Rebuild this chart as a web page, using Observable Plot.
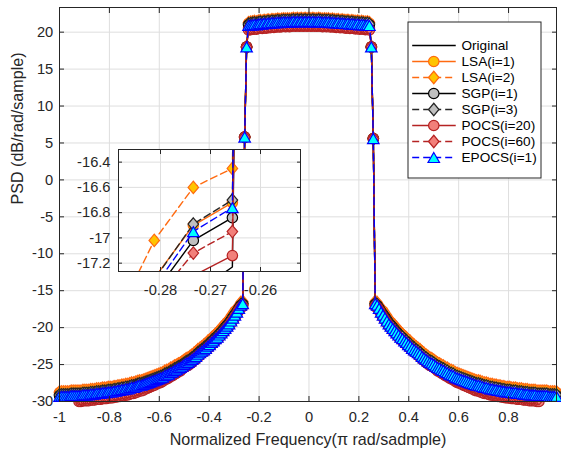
<!DOCTYPE html>
<html><head><meta charset="utf-8">
<script src="https://cdn.jsdelivr.net/npm/d3@7"></script>
<script src="https://cdn.jsdelivr.net/npm/@observablehq/plot@0.6"></script>
<style>
body{margin:0;background:#fff;}
#chart{position:relative;width:561px;height:451px;overflow:hidden;}
#chart svg{position:absolute;}
</style></head><body><div id="chart"></div>
<script>
// ---------------- DATA ----------------
const seriesNames = ["Original","LSA(i=1)","LSA(i=2)","SGP(i=1)","SGP(i=3)","POCS(i=20)","POCS(i=60)","EPOCS(i=1)"];
const xTicks = [-1,-0.8,-0.6,-0.4,-0.2,0,0.2,0.4,0.6,0.8];
const yTicks = [-30,-25,-20,-15,-10,-5,0,5,10,15,20];
const insetXTicks = [-0.28,-0.27,-0.26];
const insetYTicks = [-17.2,-17,-16.8,-16.6,-16.4];
const xLabel = "Normalized Frequency(\u03c0 rad/sadmple)";
const yLabel = "PSD (dB/rad/sample)";
// 256-point FFT frequency grid (normalized, x pi rad/sample)
const freq = d3.range(-128, 128).map(k => k / 128);

const original = [
-29.2,-29.2,-29.2,-29.2,-29.2,-29.2,-29.1,-29.1,-29.1,-29.1,-29.1,-29.1,-29.0,-29.0,-29.0,-29.0,
-28.9,-28.9,-28.9,-28.8,-28.8,-28.8,-28.7,-28.7,-28.7,-28.6,-28.6,-28.6,-28.5,-28.5,-28.4,-28.4,
-28.3,-28.3,-28.2,-28.2,-28.1,-28.0,-28.0,-27.9,-27.8,-27.7,-27.7,-27.6,-27.5,-27.4,-27.3,-27.2,
-27.1,-27.0,-26.9,-26.8,-26.7,-26.6,-26.4,-26.3,-26.2,-26.0,-25.9,-25.7,-25.6,-25.4,-25.3,-25.1,
-24.9,-24.7,-24.6,-24.4,-24.2,-24.0,-23.8,-23.5,-23.3,-23.1,-22.9,-22.7,-22.4,-22.2,-21.9,-21.7,
-21.4,-21.2,-20.9,-20.6,-20.3,-20.0,-19.7,-19.4,-19.1,-18.75,-18.45,-18.1,-17.8,-17.45,-17.23,
5.8,18.0,
20.9,20.95,21.0,21.05,21.0,21.1,21.15,21.1,21.2,21.15,21.25,21.2,21.3,21.25,21.3,21.35,21.3,21.35,21.4,21.35,21.4,21.35,21.4,21.45,21.4,21.45,21.4,21.45,21.4,21.45,21.4,
21.45,
21.4,21.45,21.4,21.4,21.45,21.4,21.35,21.4,21.35,21.4,21.3,21.35,21.3,21.25,21.3,21.2,21.25,21.2,21.15,21.2,21.1,21.15,21.1,21.05,21.1,21.0,21.05,21.0,20.95,21.0,20.9,
18.0,5.6,
-17.23,-17.45,-17.8,-18.1,-18.45,-18.75,-19.1,-19.4,-19.7,-20.0,-20.3,-20.6,-20.9,-21.2,-21.4,
-21.7,-21.9,-22.2,-22.4,-22.7,-22.9,-23.1,-23.3,-23.5,-23.8,-24.0,-24.2,-24.4,-24.6,-24.7,-24.9,
-25.1,-25.3,-25.4,-25.6,-25.7,-25.9,-26.0,-26.2,-26.3,-26.4,-26.6,-26.7,-26.8,-26.9,-27.0,-27.1,
-27.2,-27.3,-27.4,-27.5,-27.6,-27.7,-27.7,-27.8,-27.9,-28.0,-28.0,-28.1,-28.2,-28.2,-28.3,-28.3,
-28.4,-28.4,-28.5,-28.5,-28.6,-28.6,-28.6,-28.7,-28.7,-28.7,-28.8,-28.8,-28.8,-28.9,-28.9,-28.9,
-29.0,-29.0,-29.0,-29.0,-29.1,-29.1,-29.1,-29.1,-29.1,-29.1,-29.2,-29.2,-29.2,-29.2,-29.2
];

const lsa1 = [
-28.8,-28.8,-28.8,-28.8,-28.8,-28.8,-28.7,-28.7,-28.7,-28.7,-28.7,-28.7,-28.6,-28.6,-28.6,-28.6,
-28.5,-28.5,-28.5,-28.4,-28.4,-28.4,-28.3,-28.3,-28.3,-28.2,-28.2,-28.2,-28.1,-28.1,-28.0,-28.0,
-27.9,-27.9,-27.8,-27.8,-27.7,-27.6,-27.6,-27.5,-27.4,-27.3,-27.3,-27.2,-27.1,-27.0,-26.9,-26.8,
-26.7,-26.6,-26.5,-26.4,-26.3,-26.2,-26.0,-25.9,-25.8,-25.6,-25.5,-25.3,-25.2,-25.0,-24.9,-24.7,
-24.5,-24.3,-24.2,-24.0,-23.8,-23.6,-23.4,-23.1,-22.9,-22.7,-22.5,-22.3,-22.0,-21.8,-21.5,-21.3,
-21.0,-20.8,-20.5,-20.2,-19.9,-19.6,-19.3,-19.0,-18.6,-18.2,-17.8,-17.6,-17.32,-16.9,-16.72,
5.8,18.0,
21.2,21.25,21.3,21.35,21.3,21.4,21.45,21.4,21.5,21.45,21.55,21.5,21.6,21.55,21.6,21.65,21.6,21.65,21.7,21.65,21.7,21.65,21.7,21.75,21.7,21.75,21.7,21.75,21.7,21.75,21.7,
21.75,
21.7,21.75,21.7,21.7,21.75,21.7,21.65,21.7,21.65,21.7,21.6,21.65,21.6,21.55,21.6,21.5,21.55,21.5,21.45,21.5,21.4,21.45,21.4,21.35,21.4,21.3,21.35,21.3,21.25,21.3,21.2,
18.0,5.6,
-16.72,-16.9,-17.32,-17.6,-17.8,-18.2,-18.6,-19.0,-19.3,-19.6,-19.9,-20.2,-20.5,-20.8,-21.0,
-21.3,-21.5,-21.8,-22.0,-22.3,-22.5,-22.7,-22.9,-23.1,-23.4,-23.6,-23.8,-24.0,-24.2,-24.3,-24.5,
-24.7,-24.9,-25.0,-25.2,-25.3,-25.5,-25.6,-25.8,-25.9,-26.0,-26.2,-26.3,-26.4,-26.5,-26.6,-26.7,
-26.8,-26.9,-27.0,-27.1,-27.2,-27.3,-27.3,-27.4,-27.5,-27.6,-27.6,-27.7,-27.8,-27.8,-27.9,-27.9,
-28.0,-28.0,-28.1,-28.1,-28.2,-28.2,-28.2,-28.3,-28.3,-28.3,-28.4,-28.4,-28.4,-28.5,-28.5,-28.5,
-28.6,-28.6,-28.6,-28.6,-28.7,-28.7,-28.7,-28.7,-28.7,-28.7,-28.8,-28.8,-28.8,-28.8,-28.8
];

const lsa2 = [
-28.7,-28.7,-28.7,-28.7,-28.7,-28.7,-28.6,-28.6,-28.6,-28.6,-28.6,-28.6,-28.5,-28.5,-28.5,-28.5,
-28.4,-28.4,-28.4,-28.3,-28.3,-28.3,-28.2,-28.2,-28.2,-28.1,-28.1,-28.1,-28.0,-28.0,-27.9,-27.9,
-27.8,-27.8,-27.7,-27.7,-27.6,-27.5,-27.5,-27.4,-27.3,-27.2,-27.2,-27.1,-27.0,-26.9,-26.8,-26.7,
-26.6,-26.5,-26.4,-26.3,-26.2,-26.1,-25.9,-25.8,-25.7,-25.5,-25.4,-25.2,-25.1,-24.9,-24.8,-24.6,
-24.4,-24.2,-24.1,-23.9,-23.7,-23.5,-23.3,-23.0,-22.8,-22.6,-22.4,-22.2,-21.9,-21.7,-21.4,-21.2,
-20.9,-20.7,-20.4,-20.1,-19.8,-19.5,-19.25,-19.0,-18.7,-18.4,-18.05,-17.65,-17.02,-16.6,-16.45,
5.8,18.0,
21.3,21.35,21.4,21.45,21.4,21.5,21.55,21.5,21.6,21.55,21.65,21.6,21.7,21.65,21.7,21.75,21.7,21.75,21.8,21.75,21.8,21.75,21.8,21.85,21.8,21.85,21.8,21.85,21.8,21.85,21.8,
21.85,
21.8,21.85,21.8,21.8,21.85,21.8,21.75,21.8,21.75,21.8,21.7,21.75,21.7,21.65,21.7,21.6,21.65,21.6,21.55,21.6,21.5,21.55,21.5,21.45,21.5,21.4,21.45,21.4,21.35,21.4,21.3,
18.0,5.6,
-16.45,-16.6,-17.02,-17.65,-18.05,-18.4,-18.7,-19.0,-19.25,-19.5,-19.8,-20.1,-20.4,-20.7,-20.9,
-21.2,-21.4,-21.7,-21.9,-22.2,-22.4,-22.6,-22.8,-23.0,-23.3,-23.5,-23.7,-23.9,-24.1,-24.2,-24.4,
-24.6,-24.8,-24.9,-25.1,-25.2,-25.4,-25.5,-25.7,-25.8,-25.9,-26.1,-26.2,-26.3,-26.4,-26.5,-26.6,
-26.7,-26.8,-26.9,-27.0,-27.1,-27.2,-27.2,-27.3,-27.4,-27.5,-27.5,-27.6,-27.7,-27.7,-27.8,-27.8,
-27.9,-27.9,-28.0,-28.0,-28.1,-28.1,-28.1,-28.2,-28.2,-28.2,-28.3,-28.3,-28.3,-28.4,-28.4,-28.4,
-28.5,-28.5,-28.5,-28.5,-28.6,-28.6,-28.6,-28.6,-28.6,-28.6,-28.7,-28.7,-28.7,-28.7,-28.7
];

const sgp1 = [
-29.2,-29.2,-29.2,-29.2,-29.2,-29.2,-29.1,-29.1,-29.1,-29.1,-29.1,-29.1,-29.0,-29.0,-29.0,-29.0,
-28.9,-28.9,-28.9,-28.8,-28.8,-28.8,-28.7,-28.7,-28.7,-28.6,-28.6,-28.6,-28.5,-28.5,-28.4,-28.4,
-28.3,-28.3,-28.2,-28.2,-28.1,-28.0,-28.0,-27.9,-27.8,-27.7,-27.7,-27.6,-27.5,-27.4,-27.3,-27.2,
-27.1,-27.0,-26.9,-26.8,-26.7,-26.6,-26.4,-26.3,-26.2,-26.0,-25.9,-25.7,-25.6,-25.4,-25.3,-25.1,
-24.9,-24.7,-24.6,-24.4,-24.2,-24.0,-23.8,-23.5,-23.3,-23.1,-22.9,-22.7,-22.4,-22.2,-21.9,-21.7,
-21.4,-21.2,-20.9,-20.6,-20.3,-20.0,-19.7,-19.4,-19.0,-18.6,-18.25,-17.85,-17.44,-17.02,-16.84,
5.8,18.0,
21.0,21.05,21.1,21.15,21.1,21.2,21.25,21.2,21.3,21.25,21.35,21.3,21.4,21.35,21.4,21.45,21.4,21.45,21.5,21.45,21.5,21.45,21.5,21.55,21.5,21.55,21.5,21.55,21.5,21.55,21.5,
21.55,
21.5,21.55,21.5,21.5,21.55,21.5,21.45,21.5,21.45,21.5,21.4,21.45,21.4,21.35,21.4,21.3,21.35,21.3,21.25,21.3,21.2,21.25,21.2,21.15,21.2,21.1,21.15,21.1,21.05,21.1,21.0,
18.0,5.6,
-16.84,-17.02,-17.44,-17.85,-18.25,-18.6,-19.0,-19.4,-19.7,-20.0,-20.3,-20.6,-20.9,-21.2,-21.4,
-21.7,-21.9,-22.2,-22.4,-22.7,-22.9,-23.1,-23.3,-23.5,-23.8,-24.0,-24.2,-24.4,-24.6,-24.7,-24.9,
-25.1,-25.3,-25.4,-25.6,-25.7,-25.9,-26.0,-26.2,-26.3,-26.4,-26.6,-26.7,-26.8,-26.9,-27.0,-27.1,
-27.2,-27.3,-27.4,-27.5,-27.6,-27.7,-27.7,-27.8,-27.9,-28.0,-28.0,-28.1,-28.2,-28.2,-28.3,-28.3,
-28.4,-28.4,-28.5,-28.5,-28.6,-28.6,-28.6,-28.7,-28.7,-28.7,-28.8,-28.8,-28.8,-28.9,-28.9,-28.9,
-29.0,-29.0,-29.0,-29.0,-29.1,-29.1,-29.1,-29.1,-29.1,-29.1,-29.2,-29.2,-29.2,-29.2,-29.2
];

const sgp3 = [
-29.1,-29.1,-29.1,-29.1,-29.1,-29.1,-29.0,-29.0,-29.0,-29.0,-29.0,-29.0,-28.9,-28.9,-28.9,-28.9,
-28.8,-28.8,-28.8,-28.7,-28.7,-28.7,-28.6,-28.6,-28.6,-28.5,-28.5,-28.5,-28.4,-28.4,-28.3,-28.3,
-28.2,-28.2,-28.1,-28.1,-28.0,-27.9,-27.9,-27.8,-27.7,-27.6,-27.6,-27.5,-27.4,-27.3,-27.2,-27.1,
-27.0,-26.9,-26.8,-26.7,-26.6,-26.5,-26.3,-26.2,-26.1,-25.9,-25.8,-25.6,-25.5,-25.3,-25.2,-25.0,
-24.8,-24.6,-24.5,-24.3,-24.1,-23.9,-23.7,-23.4,-23.2,-23.0,-22.8,-22.6,-22.3,-22.1,-21.8,-21.6,
-21.3,-21.1,-20.8,-20.5,-20.2,-19.9,-19.6,-19.3,-18.9,-18.5,-18.1,-17.75,-17.33,-16.89,-16.70,
5.8,18.0,
21.1,21.15,21.2,21.25,21.2,21.3,21.35,21.3,21.4,21.35,21.45,21.4,21.5,21.45,21.5,21.55,21.5,21.55,21.6,21.55,21.6,21.55,21.6,21.65,21.6,21.65,21.6,21.65,21.6,21.65,21.6,
21.65,
21.6,21.65,21.6,21.6,21.65,21.6,21.55,21.6,21.55,21.6,21.5,21.55,21.5,21.45,21.5,21.4,21.45,21.4,21.35,21.4,21.3,21.35,21.3,21.25,21.3,21.2,21.25,21.2,21.15,21.2,21.1,
18.0,5.6,
-16.70,-16.89,-17.33,-17.75,-18.1,-18.5,-18.9,-19.3,-19.6,-19.9,-20.2,-20.5,-20.8,-21.1,-21.3,
-21.6,-21.8,-22.1,-22.3,-22.6,-22.8,-23.0,-23.2,-23.4,-23.7,-23.9,-24.1,-24.3,-24.5,-24.6,-24.8,
-25.0,-25.2,-25.3,-25.5,-25.6,-25.8,-25.9,-26.1,-26.2,-26.3,-26.5,-26.6,-26.7,-26.8,-26.9,-27.0,
-27.1,-27.2,-27.3,-27.4,-27.5,-27.6,-27.6,-27.7,-27.8,-27.9,-27.9,-28.0,-28.1,-28.1,-28.2,-28.2,
-28.3,-28.3,-28.4,-28.4,-28.5,-28.5,-28.5,-28.6,-28.6,-28.6,-28.7,-28.7,-28.7,-28.8,-28.8,-28.8,
-28.9,-28.9,-28.9,-28.9,-29.0,-29.0,-29.0,-29.0,-29.0,-29.0,-29.1,-29.1,-29.1,-29.1,-29.1
];

const pocs20 = [
-30.4,-30.35,-30.3,-30.3,-30.25,-30.2,-30.2,-30.15,-30.1,-30.05,-30.0,-30.0,-29.9,-29.9,-29.9,-29.9,
-29.8,-29.8,-29.8,-29.7,-29.7,-29.7,-29.6,-29.6,-29.6,-29.5,-29.5,-29.5,-29.4,-29.4,-29.3,-29.3,
-29.2,-29.2,-29.1,-29.1,-29.0,-28.9,-28.9,-28.8,-28.7,-28.55,-28.55,-28.45,-28.3,-28.2,-28.1,-27.95,
-27.85,-27.75,-27.6,-27.5,-27.4,-27.25,-27.05,-26.95,-26.8,-26.6,-26.5,-26.3,-26.15,-25.95,-25.85,-25.6,
-25.4,-25.2,-25.1,-24.9,-24.7,-24.45,-24.25,-23.95,-23.75,-23.5,-23.3,-23.1,-22.8,-22.6,-22.3,-22.1,
-21.8,-21.6,-21.3,-21.0,-20.7,-20.4,-20.1,-19.8,-19.4,-19.0,-18.6,-18.2,-17.7,-17.30,-17.14,
5.8,18.0,
20.3,20.35,20.4,20.45,20.4,20.5,20.55,20.5,20.6,20.55,20.65,20.6,20.7,20.65,20.7,20.75,20.7,20.75,20.8,20.75,20.8,20.75,20.8,20.85,20.8,20.85,20.8,20.85,20.8,20.85,20.8,
20.85,
20.8,20.85,20.8,20.8,20.85,20.8,20.75,20.8,20.75,20.8,20.7,20.75,20.7,20.65,20.7,20.6,20.65,20.6,20.55,20.6,20.5,20.55,20.5,20.45,20.5,20.4,20.45,20.4,20.35,20.4,20.3,
18.0,5.6,
-17.14,-17.30,-17.7,-18.2,-18.6,-19.0,-19.4,-19.8,-20.1,-20.4,-20.7,-21.0,-21.3,-21.6,-21.8,
-22.1,-22.3,-22.6,-22.8,-23.1,-23.3,-23.5,-23.75,-23.95,-24.25,-24.45,-24.7,-24.9,-25.1,-25.2,-25.4,
-25.6,-25.85,-25.95,-26.15,-26.3,-26.5,-26.6,-26.8,-26.95,-27.05,-27.25,-27.4,-27.5,-27.6,-27.75,-27.85,
-27.95,-28.1,-28.2,-28.3,-28.45,-28.55,-28.55,-28.7,-28.8,-28.9,-28.9,-29.0,-29.1,-29.1,-29.2,-29.2,
-29.3,-29.3,-29.4,-29.4,-29.5,-29.5,-29.5,-29.6,-29.6,-29.6,-29.7,-29.7,-29.7,-29.8,-29.8,-29.8,
-29.9,-29.9,-29.9,-29.9,-30.0,-30.0,-30.05,-30.1,-30.15,-30.2,-30.2,-30.25,-30.3,-30.3,-30.35
];

const pocs60 = [
-30.2,-30.2,-30.15,-30.15,-30.1,-30.1,-30.1,-30.05,-30.05,-30.02,-29.6,-29.6,-29.5,-29.5,-29.5,-29.5,
-29.4,-29.4,-29.4,-29.3,-29.3,-29.3,-29.2,-29.2,-29.2,-29.1,-29.1,-29.1,-29.0,-29.0,-28.9,-28.9,
-28.8,-28.8,-28.7,-28.7,-28.6,-28.5,-28.5,-28.4,-28.3,-28.15,-28.15,-28.05,-27.95,-27.85,-27.75,-27.6,
-27.5,-27.4,-27.3,-27.2,-27.1,-27.0,-26.8,-26.7,-26.55,-26.35,-26.25,-26.05,-25.95,-25.75,-25.6,-25.4,
-25.2,-25.0,-24.85,-24.65,-24.45,-24.25,-24.05,-23.75,-23.55,-23.35,-23.15,-22.95,-22.65,-22.45,-22.15,-21.95,
-21.65,-21.45,-21.15,-20.85,-20.55,-20.25,-19.95,-19.65,-19.25,-18.85,-18.45,-18.05,-17.5,-17.12,-16.95,
5.8,18.0,
20.55,20.6,20.65,20.7,20.65,20.75,20.8,20.75,20.85,20.8,20.9,20.85,20.95,20.9,20.95,21.0,20.95,21.0,21.05,21.0,21.05,21.0,21.05,21.1,21.05,21.1,21.05,21.1,21.05,21.1,21.05,
21.1,
21.05,21.1,21.05,21.05,21.1,21.05,21.0,21.05,21.0,21.05,20.95,21.0,20.95,20.9,20.95,20.85,20.9,20.85,20.8,20.85,20.75,20.8,20.75,20.7,20.75,20.65,20.7,20.65,20.6,20.65,20.55,
18.0,5.6,
-16.95,-17.12,-17.5,-18.05,-18.45,-18.85,-19.25,-19.65,-19.95,-20.25,-20.55,-20.85,-21.15,-21.45,-21.65,
-21.95,-22.15,-22.45,-22.65,-22.95,-23.15,-23.35,-23.55,-23.75,-24.05,-24.25,-24.45,-24.65,-24.85,-25.0,-25.2,
-25.4,-25.6,-25.75,-25.95,-26.05,-26.25,-26.35,-26.55,-26.7,-26.8,-27.0,-27.1,-27.2,-27.3,-27.4,-27.5,
-27.6,-27.75,-27.85,-27.95,-28.05,-28.15,-28.15,-28.3,-28.4,-28.5,-28.5,-28.6,-28.7,-28.7,-28.8,-28.8,
-28.9,-28.9,-29.0,-29.0,-29.1,-29.1,-29.1,-29.2,-29.2,-29.2,-29.3,-29.3,-29.3,-29.4,-29.4,-29.4,
-29.5,-29.5,-29.5,-29.5,-29.6,-29.6,-30.02,-30.05,-30.05,-30.1,-30.1,-30.1,-30.15,-30.15,-30.2
];

const epocs = [
-29.3,-29.3,-29.3,-29.3,-29.3,-29.3,-29.2,-29.2,-29.2,-29.2,-29.2,-29.2,-29.1,-29.1,-29.1,-29.1,
-29.0,-29.0,-29.0,-28.9,-28.9,-28.9,-28.8,-28.8,-28.8,-28.7,-28.7,-28.7,-28.6,-28.6,-28.5,-28.5,
-28.4,-28.4,-28.3,-28.3,-28.2,-28.1,-28.1,-28.0,-27.9,-27.8,-27.8,-27.7,-27.6,-27.5,-27.4,-27.3,
-27.2,-27.1,-27.0,-26.9,-26.8,-26.7,-26.5,-26.4,-26.3,-26.1,-26.0,-25.8,-25.7,-25.5,-25.4,-25.2,
-25.0,-24.8,-24.7,-24.5,-24.3,-24.1,-23.9,-23.6,-23.4,-23.2,-23.0,-22.8,-22.5,-22.3,-22.0,-21.8,
-21.5,-21.3,-21.0,-20.7,-20.4,-20.1,-19.8,-19.5,-19.1,-18.7,-18.3,-17.9,-17.39,-16.95,-16.76,
5.8,18.0,
20.9,20.95,21.0,21.05,21.0,21.1,21.15,21.1,21.2,21.15,21.25,21.2,21.3,21.25,21.3,21.35,21.3,21.35,21.4,21.35,21.4,21.35,21.4,21.45,21.4,21.45,21.4,21.45,21.4,21.45,21.4,
21.45,
21.4,21.45,21.4,21.4,21.45,21.4,21.35,21.4,21.35,21.4,21.3,21.35,21.3,21.25,21.3,21.2,21.25,21.2,21.15,21.2,21.1,21.15,21.1,21.05,21.1,21.0,21.05,21.0,20.95,21.0,20.9,
18.0,5.6,
-16.76,-16.95,-17.39,-17.9,-18.3,-18.7,-19.1,-19.5,-19.8,-20.1,-20.4,-20.7,-21.0,-21.3,-21.5,
-21.8,-22.0,-22.3,-22.5,-22.8,-23.0,-23.2,-23.4,-23.6,-23.9,-24.1,-24.3,-24.5,-24.7,-24.8,-25.0,
-25.2,-25.4,-25.5,-25.7,-25.8,-26.0,-26.1,-26.3,-26.4,-26.5,-26.7,-26.8,-26.9,-27.0,-27.1,-27.2,
-27.3,-27.4,-27.5,-27.6,-27.7,-27.8,-27.8,-27.9,-28.0,-28.1,-28.1,-28.2,-28.3,-28.3,-28.4,-28.4,
-28.5,-28.5,-28.6,-28.6,-28.7,-28.7,-28.7,-28.8,-28.8,-28.8,-28.9,-28.9,-28.9,-29.0,-29.0,-29.0,
-29.1,-29.1,-29.1,-29.1,-29.2,-29.2,-29.2,-29.2,-29.2,-29.2,-29.3,-29.3,-29.3,-29.3,-29.3
];

const seriesValues = [original, lsa1, lsa2, sgp1, sgp3, pocs20, pocs60, epocs];

// ---------------- STYLE ----------------
const symTriangle = {draw(ctx, size) {const r = Math.sqrt(size / Math.PI), a = r * 1.15, b = r; ctx.moveTo(0, -b); ctx.lineTo(a, b); ctx.lineTo(-a, b); ctx.closePath();}};
const symDiamond = {draw(ctx, size) {const r = Math.sqrt(size / Math.PI), a = r * 1.05, b = r * 1.25; ctx.moveTo(0, -b); ctx.lineTo(a, 0); ctx.lineTo(0, b); ctx.lineTo(-a, 0); ctx.closePath();}};
const DASH = "7,4";
const styles = [
  {stroke: "#000000"},
  {stroke: "#ff6a10", fill: "#ffc400", symbol: "circle", r: 5.2},
  {stroke: "#ff6a10", fill: "#ffc400", symbol: symDiamond, r: 5, dash: DASH},
  {stroke: "#000000", fill: "#bfbfbf", symbol: "circle", r: 5.2},
  {stroke: "#262626", fill: "#bfbfbf", symbol: symDiamond, r: 5, dash: DASH},
  {stroke: "#b52323", fill: "#f2807a", symbol: "circle", r: 5.2},
  {stroke: "#b52323", fill: "#f2807a", symbol: symDiamond, r: 5, dash: DASH},
  {stroke: "#0000ff", fill: "#00ffff", symbol: symTriangle, r: 5, dash: DASH}
];
const FONT = "'Liberation Sans', Arial, Helvetica, sans-serif";
const AX = "#262626", GRID = "#dedede";
const TICK_FS = 14.67, LABEL_FS = 16.1, LEGEND_FS = 13.6;

seriesValues.forEach((v, i) => { if (v.length !== 256) throw new Error(seriesNames[i] + " has " + v.length); });
const tables = seriesValues.map(vals => vals.map((v, i) => ({f: freq[i], v})));

function seriesMarks(inDomain) {
  const marks = [];
  tables.forEach((t, i) => {
    const s = styles[i];
    marks.push(Plot.line(t, {x: "f", y: "v", stroke: s.stroke, strokeWidth: 1.4, clip: true, ...(s.dash ? {strokeDasharray: s.dash} : {})}));
    if (s.symbol) marks.push(Plot.dot(t.filter(inDomain), {x: "f", y: "v", r: s.r, symbol: s.symbol, fill: s.fill, stroke: s.stroke, strokeWidth: 1.2}));
  });
  return marks;
}

const fmt1 = d => String(Math.round(d * 10) / 10);
const container = document.getElementById("chart");

// ---------------- MAIN ----------------
const yMax = 23.34;
const main = Plot.plot({
  width: 561, height: 451,
  marginLeft: 59, marginRight: 5, marginTop: 7, marginBottom: 50,
  x: {domain: [-1, 0.9921875]},
  y: {domain: [-30, yMax]},
  style: {fontFamily: FONT, fontSize: TICK_FS + "px", color: AX, background: "white", overflow: "visible"},
  marks: [
    Plot.gridX(xTicks, {stroke: GRID, strokeOpacity: 1}),
    Plot.gridY(yTicks, {stroke: GRID, strokeOpacity: 1}),
    ...seriesMarks(d => d.v >= -30 && d.v <= yMax),
    Plot.frame({stroke: AX}),
    Plot.axisX(xTicks, {tickSize: -5, tickPadding: 15.3, tickFormat: fmt1, label: null, fontSize: TICK_FS}),
    Plot.axisX(xTicks, {anchor: "top", tickSize: -5, tickFormat: () => "", label: null}),
    Plot.axisY(yTicks, {tickSize: -5, tickPadding: 11.3, tickFormat: d => String(d), label: null, fontSize: TICK_FS}),
    Plot.axisY(yTicks, {anchor: "right", tickSize: -5, tickFormat: () => "", label: null}),
    Plot.text([xLabel], {frameAnchor: "bottom", dy: 38.5, lineAnchor: "middle", fontSize: LABEL_FS, fill: AX}),
    Plot.text([yLabel], {frameAnchor: "left", dx: -42, rotate: -90, lineAnchor: "middle", fontSize: LABEL_FS, fill: AX})
  ]
});
main.style.left = "0px"; main.style.top = "0px";
container.appendChild(main);

// ---------------- INSET ----------------
const ix = [-0.2884, -0.2520], iy = [-17.266, -16.30];
const inset = Plot.plot({
  width: 235, height: 149,
  marginLeft: 50, marginRight: 3, marginTop: 3, marginBottom: 24,
  x: {domain: ix}, y: {domain: iy},
  style: {fontFamily: FONT, fontSize: TICK_FS + "px", color: AX, background: "transparent", overflow: "visible"},
  marks: [
    Plot.frame({fill: "white"}),
    Plot.gridX(insetXTicks, {stroke: GRID, strokeOpacity: 1}),
    Plot.gridY(insetYTicks, {stroke: GRID, strokeOpacity: 1}),
    ...seriesMarks(d => d.f >= ix[0] && d.f <= ix[1] && d.v >= iy[0] && d.v <= iy[1]),
    Plot.frame({stroke: AX}),
    Plot.axisX(insetXTicks, {tickSize: -4, tickPadding: 16.8, tickFormat: d => String(d), label: null, fontSize: TICK_FS}),
    Plot.axisX(insetXTicks, {anchor: "top", tickSize: -4, tickFormat: () => "", label: null}),
    Plot.axisY(insetYTicks, {tickSize: -4, tickPadding: 12, tickFormat: d => String(d), label: null, fontSize: TICK_FS}),
    Plot.axisY(insetYTicks, {anchor: "right", tickSize: -4, tickFormat: () => "", label: null})
  ]
});
inset.style.left = "68px"; inset.style.top = "146px";
container.appendChild(inset);

// ---------------- LEGEND ----------------
const legendMarks = [Plot.frame({fill: "white", stroke: AX, inset: 0.5})];
seriesNames.forEach((name, i) => {
  const s = styles[i];
  legendMarks.push(Plot.link([name], {x1: 0.035, x2: 0.36, y1: d => d, y2: d => d, stroke: s.stroke, strokeWidth: 1.5, ...(s.dash ? {strokeDasharray: s.dash} : {})}));
  if (s.symbol) legendMarks.push(Plot.dot([name], {x: 0.196, y: d => d, r: s.r, symbol: s.symbol, fill: s.fill, stroke: s.stroke, strokeWidth: 1.2}));
});
legendMarks.push(Plot.text(seriesNames, {x: 0.403, y: d => d, textAnchor: "start", fill: "#000", fontSize: LEGEND_FS}));
const legend = Plot.plot({
  width: 134, height: 157, margin: 0,
  x: {domain: [0, 1], range: [0, 134], axis: null},
  y: {type: "point", domain: seriesNames, range: [14, 146.7], axis: null},
  style: {fontFamily: FONT, fontSize: LEGEND_FS + "px", color: "#000", background: "transparent", overflow: "visible"},
  marks: legendMarks
});
legend.style.left = "407px"; legend.style.top = "21px";
container.appendChild(legend);
</script></body></html>
